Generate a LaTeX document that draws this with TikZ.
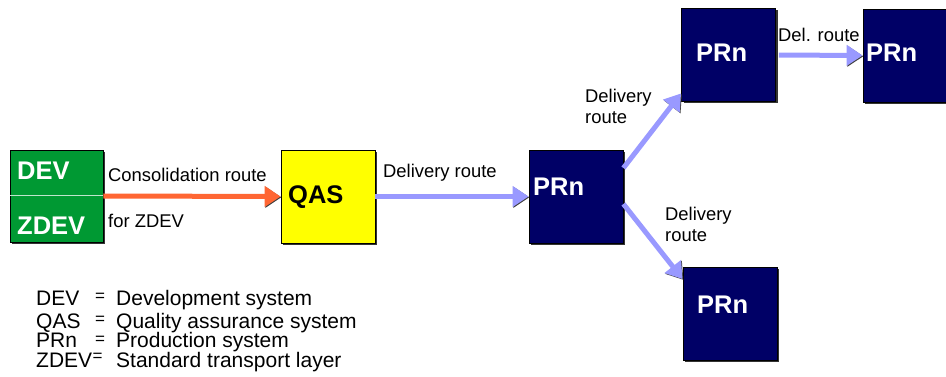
\documentclass[tikz,border=0pt]{standalone}
\usepackage{fontspec}
\setmainfont{Liberation Sans}
\usetikzlibrary{arrows.meta, positioning, shadows}
\definecolor{devgreen}{RGB}{0,153,51}
\definecolor{qasyellow}{RGB}{255,255,0}
\definecolor{prnavy}{RGB}{0,0,102}
\definecolor{delblue}{RGB}{153,153,255}
\definecolor{consorange}{RGB}{255,102,51}
\tikzset{
  sysbox/.style={draw=black, line width=0.8pt, minimum width=94pt, minimum height=93pt, inner sep=0pt,
    drop shadow={shadow xshift=2pt, shadow yshift=-2pt, fill=black!80, opacity=1}},
  syslabel/.style={font=\fontsize{25.5}{28}\selectfont\bfseries, inner sep=0pt, anchor=base west},
  route/.style={line width=5pt, -{Triangle[length=16pt,width=20pt]},
    preaction={draw=black!75, transform canvas={xshift=0.8pt, yshift=-0.8pt}}},
  routelabel/.style={font=\fontsize{18.4}{21.5}\selectfont, inner sep=0pt, anchor=base west, align=left},
  legendtext/.style={font=\fontsize{21}{23}\selectfont, inner sep=0pt, anchor=base west},
  legendeq/.style={font=\fontsize{17}{18}\selectfont, inner sep=0pt, anchor=base west}
}
\begin{document}
\begin{tikzpicture}[x=1pt, y=-1pt]
  \useasboundingbox (0,0) rectangle (946,377);

  % systems
  \node[sysbox, fill=devgreen, minimum width=93pt, minimum height=92pt] (dev) at (56.5,196) {};
  \draw[white!75!devgreen, line width=1pt] ([xshift=0.5pt]dev.west) -- ([xshift=-0.5pt]dev.east);
  \node[sysbox, fill=qasyellow] (qas) at (328,196.5) {};
  \node[sysbox, fill=prnavy] (pr1) at (576,196.5) {};
  \node[sysbox, fill=prnavy] (pr2) at (728.5,55) {};
  \node[sysbox, fill=prnavy, minimum width=83pt] (pr3) at (904.5,55.5) {};
  \node[sysbox, fill=prnavy] (pr4) at (730,313.5) {};

  \node[syslabel, white] (devlbl) at (17,180) {DEV};
  \node[syslabel, white] (zdevlbl) at (17,234.6) {ZDEV};
  \node[syslabel] (qaslbl) at (288,204) {QAS};
  \node[syslabel, white] (pr1lbl) at (533,195.6) {PRn};
  \node[syslabel, white] (pr2lbl) at (696,62) {PRn};
  \node[syslabel, white] (pr3lbl) at (866,62) {PRn};
  \node[syslabel, white] (pr4lbl) at (697,313.6) {PRn};

  % routes
  \draw[route, consorange] (dev.east) -- (qas.west);
  \draw[route, delblue] (qas.east) -- (pr1.west);
  \draw[route, delblue] (pr1.31) -- (pr2.219);
  \draw[route, delblue] (pr1.-9) -- (pr4.144);
  \draw[route, delblue, shorten <=3pt] (pr2.east) -- (pr3.west);

  \node[routelabel] (conslbl) at (108,182) {Consolidation route};
  \node[routelabel] (forlbl) at (108,227) {for ZDEV};
  \node[routelabel] (del1lbl) at (383,178) {Delivery route};
  \node[routelabel] (del2lbl) at (585,124) {Delivery\\route};
  \node[routelabel] (del3lbl) at (665,241.6) {Delivery\\route};
  \node[routelabel] (del4lbl) at (778,42) {Del. route};

  % legend
  \node[legendtext] (leg1) at (36,305.5) {DEV};
  \node[legendtext] (leg2) at (36,328.5) {QAS};
  \node[legendtext] (leg3) at (36,347.5) {PRn};
  \node[legendtext] (leg4) at (36,367) {ZDEV};
  \node[legendeq] (eq1) at (95,301) {=};
  \node[legendeq] (eq2) at (95,324.5) {=};
  \node[legendeq] (eq3) at (95,344.5) {=};
  \node[legendeq] (eq4) at (92.5,361.5) {=};
  \node[legendtext] (txt1) at (116,305.5) {Development system};
  \node[legendtext] (txt2) at (116,328.5) {Quality assurance system};
  \node[legendtext] (txt3) at (116,347.5) {Production system};
  \node[legendtext] (txt4) at (116,367) {Standard transport layer};
\end{tikzpicture}
\end{document}
